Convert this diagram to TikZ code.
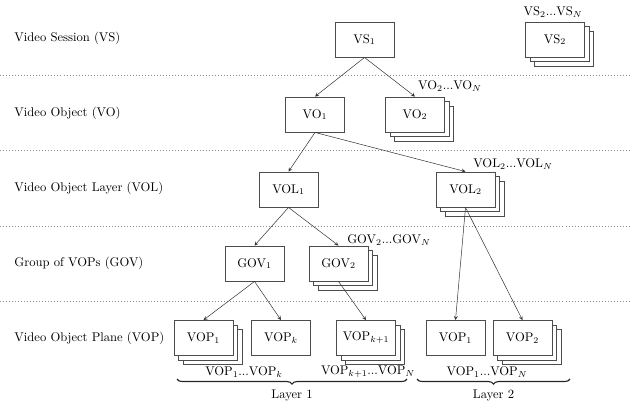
\documentclass[tikz,border=0pt]{standalone}
\usepackage{tikz}
\usepackage{amsmath}
\usetikzlibrary{arrows, shadows, decorations.pathreplacing}

\begin{document}
\begin{tikzpicture}[x=0.0279cm, y=-0.0279cm,
  box/.style={draw=black!70, line width=0.6pt, fill=white, minimum width=1.65cm, minimum height=0.98cm, inner sep=0pt},
  stack/.style={box, double copy shadow={shadow xshift=3.6pt, shadow yshift=-3.6pt}},
  link/.style={->, >=stealth, black!80},
  sep/.style={black!45, dotted},
  lvl/.style={anchor=west},
  layer/.style={black!85, line width=0.9pt, decorate, decoration={brace, mirror, amplitude=4pt}}]
\useasboundingbox (0,0) rectangle (638,403);

% Levels
\foreach \y in {75,150,226,301} {
    \draw[sep] (0,\y) -- (632,\y);
}
\foreach \y/\i/\name in {38/1/{Video Session (VS)}, 113/2/{Video Object (VO)}, 188/3/{Video Object Layer (VOL)}, 263/4/{Group of VOPs (GOV)}, 338/5/{Video Object Plane (VOP)}} {
    \node[lvl] (lvl\i) at (10,\y) {\name};
}

% Video sessions
\node[box] (vs1) at (364.5,39.5) {VS$_1$};
\node[stack] (vs2) at (555,39.5) {VS$_2$};
\node (vsn) at (553,12) {VS$_2$...VS$_N$};

% Video objects
\node[box] (vo1) at (315,114.5) {VO$_1$};
\node[stack] (vo2) at (415,114.5) {VO$_2$};
\node (von) at (450,86) {VO$_2$...VO$_N$};

% Video object layers
\node[box] (vol1) at (288.5,189.5) {VOL$_1$};
\node[stack] (vol2) at (465.5,189.5) {VOL$_2$};
\node (voln) at (513,164) {VOL$_2$...VOL$_N$};

% Groups of VOPs
\node[box] (gov1) at (254.5,263.5) {GOV$_1$};
\node[stack] (gov2) at (338.5,263.5) {GOV$_2$};
\node (govn) at (389,240) {GOV$_2$...GOV$_N$};

% Video object planes
\node[stack] (vopa) at (203.5,338) {VOP$_1$};
\node[box] (vopk) at (281,338) {VOP$_k$};
\node[stack] (vopkk) at (366,338) {VOP$_{k+1}$};
\node[box] (vopb) at (455.5,338) {VOP$_1$};
\node[stack] (vopc) at (522.5,338) {VOP$_2$};
\node (vopan) at (244,372) {VOP$_1$...VOP$_k$};
\node (vopkn) at (368,372) {VOP$_{k+1}$...VOP$_N$};
\node (vopcn) at (487,372) {VOP$_1$...VOP$_N$};

% Links
\draw[link] (vs1.south) -- (vo1.north);
\draw[link] (vs1.south) -- (vo2.north);
\draw[link] (vo1.south) -- (vol1.north);
\draw[link] (vo1.south) -- (vol2.north);
\draw[link] (vol1.south) -- (gov1.north);
\draw[link] (vol1.south) -- (gov2.north);
\draw[link] (vol2.south) -- (vopb.north);
\draw[link] (vol2.south) -- (vopc.north);
\draw[link] (gov1.south) -- (vopa.north);
\draw[link] (gov1.south) -- (vopk.north);
\draw[link] (gov2.south) -- (vopkk.north);

% Layers
\coordinate (l1a) at (177,379);
\coordinate (l1b) at (407,379);
\coordinate (l2a) at (417,379);
\coordinate (l2b) at (570,379);
\draw[layer] (l1a) -- (l1b);
\draw[layer] (l2a) -- (l2b);
\node (lay1) at (292,395) {Layer 1};
\node (lay2) at (493.5,395) {Layer 2};
\end{tikzpicture}
\end{document}
